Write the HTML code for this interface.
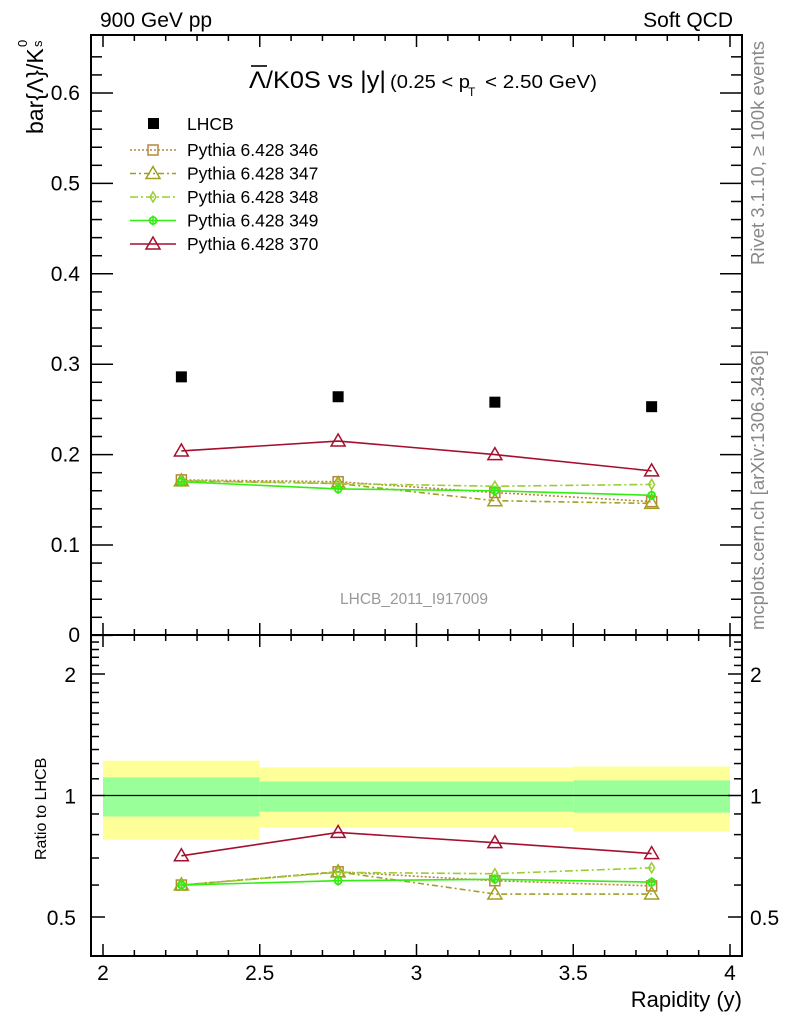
<!DOCTYPE html>
<html><head><meta charset="utf-8"><style>
body{margin:0;background:#fff}
svg{display:block;font-family:"Liberation Sans",sans-serif}
</style></head><body>
<svg id="c" width="786" height="1024" viewBox="0 0 786 1024"></svg>
<script>
const xs=[2.25,2.75,3.25,3.75];
const lhcb=[0.286,0.264,0.258,0.253];
const p346=[0.172,0.170,0.158,0.148];
const p347=[0.171,0.168,0.149,0.146];
const p348=[0.171,0.168,0.165,0.167];
const p349=[0.170,0.162,0.160,0.155];
const p370=[0.204,0.215,0.200,0.182];
const r346=[0.60,0.647,0.615,0.597];
const r347=[0.60,0.647,0.57,0.57];
const r348=[0.60,0.645,0.64,0.662];
const r349=[0.60,0.615,0.62,0.61];
const r370=[0.709,0.81,0.764,0.718];
const bandEdges=[[2,2.5],[2.5,3.5],[3.5,4]];
const yelLo=[0.777,0.833,0.814], yelHi=[1.22,1.174,1.18];
const grnLo=[0.887,0.912,0.907], grnHi=[1.109,1.083,1.09];
const mainTicks=[0.1,0.2,0.3,0.4,0.5,0.6];
const xTicks=[2,2.5,3,3.5,4];
const xTickLabels=["2","2.5","3","3.5","4"];
const ratioTicks=[0.5,1,2];

const L=91,R=742,T=35,M=635,B=956;
const X=v=>103+(v-2)*(730-103)/2;
const Y=v=>635.4-v*904;
const YR=v=>795.5-121.5*Math.log2(v);
const svg=document.getElementById('c');
const NS='http://www.w3.org/2000/svg';
function el(tag,at,txt,name,par){const e=document.createElementNS(NS,tag);for(const k in at)e.setAttribute(k,at[k]);if(txt!=null)e.textContent=txt;


(par||svg).appendChild(e);return e;}
// bands
bandEdges.forEach((b,i)=>{
el('rect',{x:X(b[0]),y:YR(yelHi[i]),width:X(b[1])-X(b[0]),height:YR(yelLo[i])-YR(yelHi[i]),fill:'#ffff99'},null,'band-yellow');
el('rect',{x:X(b[0]),y:YR(grnHi[i]),width:X(b[1])-X(b[0]),height:YR(grnLo[i])-YR(grnHi[i]),fill:'#99ff99'},null,'band-green');
});
el('line',{x1:X(2),x2:X(4),y1:YR(1),y2:YR(1),stroke:'#000','stroke-width':1.3},null,'ratio-unity-line');
// frames
el('rect',{x:L,y:T,width:R-L,height:M-T,fill:'none',stroke:'#000','stroke-width':2},null,'main-frame');
el('rect',{x:L,y:M,width:R-L,height:B-M,fill:'none',stroke:'#000','stroke-width':2},null,'ratio-frame');
// x ticks
for(let v=2;v<=4.001;v+=0.1){const maj=Math.abs(v*2-Math.round(v*2))<1e-6;const len=maj?12:6;
[[T,1],[M,-1],[M,1],[B,-1]].forEach(([y0,d])=>el('line',{x1:X(v),x2:X(v),y1:y0,y2:y0+d*len,stroke:'#000','stroke-width':1.5},null,'x-tick'));}
xTicks.forEach((v,i)=>el('text',{x:X(v),y:980,'font-size':21,'text-anchor':'middle'},xTickLabels[i],'x-tick-label'));
// main y ticks
for(let v=0;v<=0.66;v+=0.02){const maj=Math.abs(v*10-Math.round(v*10))<1e-6;const len=maj?22:11;
el('line',{x1:L,x2:L+len,y1:Y(v),y2:Y(v),stroke:'#000','stroke-width':1.5},null,'y-tick');
el('line',{x1:R,x2:R-len,y1:Y(v),y2:Y(v),stroke:'#000','stroke-width':1.5},null,'y-tick');}
mainTicks.forEach(v=>el('text',{x:80,y:Y(v)+7,'font-size':21,'text-anchor':'end'},v.toFixed(1),'y-tick-label'));
el('text',{x:80,y:642,'font-size':21,'text-anchor':'end'},'0','y-tick-label');
// ratio y ticks
[0.4,0.5,0.6,0.7,0.8,0.9,1,1.1,1.2,1.3,1.4,1.5,1.6,1.7,1.8,1.9,2,2.1,2.2,2.3,2.4].forEach(v=>{const maj=ratioTicks.includes(v);const len=maj?14:8;
el('line',{x1:L,x2:L+len,y1:YR(v),y2:YR(v),stroke:'#000','stroke-width':1.5},null,'ratio-tick');
el('line',{x1:R,x2:R-len,y1:YR(v),y2:YR(v),stroke:'#000','stroke-width':1.5},null,'ratio-tick');});
ratioTicks.forEach(v=>{el('text',{x:76,y:YR(v)+8,'font-size':21,'text-anchor':'end'},String(v),'ratio-tick-label');
el('text',{x:750,y:YR(v)+8,'font-size':21},String(v),'ratio-tick-label-right');});
// text
el('text',{x:100,y:27,'font-size':21},'900 GeV pp','energy-label');
el('text',{x:733,y:27,'font-size':21,'text-anchor':'end'},'Soft QCD','process-label');
el('line',{x1:251,x2:267,y1:66,y2:66,stroke:'#000','stroke-width':1.6},null,'title-overbar');
el('text',{x:249,y:88,'font-size':24,textLength:137,lengthAdjust:'spacingAndGlyphs'},'Λ/K0S vs |y|','plot-title');
el('text',{x:390,y:88,'font-size':18,textLength:80,lengthAdjust:'spacingAndGlyphs'},'(0.25 < p','plot-title-cut');
el('text',{x:468,y:96,'font-size':12},'T','plot-title-sub');
el('text',{x:485,y:88,'font-size':18,textLength:112,lengthAdjust:'spacingAndGlyphs'},'< 2.50 GeV)','plot-title-cut2');
el('text',{x:340,y:604,'font-size':15.5,fill:'#999'},'LHCB_2011_I917009','analysis-id');
el('text',{transform:'translate(43,134) rotate(-90)','font-size':23},'bar{Λ}/K','y-axis-title');
el('text',{transform:'translate(27,47) rotate(-90)','font-size':13},'0','y-axis-title-sup');
el('text',{transform:'translate(42,47) rotate(-90)','font-size':13},'s','y-axis-title-sub');
el('text',{transform:'translate(46,860) rotate(-90)','font-size':16},'Ratio to LHCB','ratio-axis-title');
el('text',{x:742,y:1007,'font-size':22,'text-anchor':'end'},'Rapidity (y)','x-axis-title');
el('text',{transform:'translate(764,265) rotate(-90)','font-size':18.5,fill:'#888'},'Rivet 3.1.10, ≥ 100k events','rivet-label');
el('text',{transform:'translate(764,630) rotate(-90)','font-size':18.5,fill:'#888'},'mcplots.cern.ch [arXiv:1306.3436]','mcplots-label');
// series
function marker(type,x,y,col,name){
 if(type=='sq')el('rect',{x:x-5,y:y-5,width:10,height:10,fill:'none',stroke:col,'stroke-width':1.5},null,name);
 if(type=='tri')el('path',{d:`M${x},${y-7}L${x+7},${y+5}L${x-7},${y+5}Z`,fill:'none',stroke:col,'stroke-width':1.5},null,name);
 if(type=='dia')el('path',{d:`M${x},${y-5}L${x+3},${y}L${x},${y+5}L${x-3},${y}Z`,fill:'none',stroke:col,'stroke-width':1.5},null,name);
 if(type=='circ'){el('circle',{cx:x,cy:y,r:3.5,fill:'none',stroke:col,'stroke-width':1.8},null,name);
  el('path',{d:`M${x-4},${y}H${x+4}M${x},${y-5}V${y+5}`,stroke:col,'stroke-width':1.5},null,name);}
}
const series=[
 {n:'pythia-346',m:p346,r:r346,c:'#b8863b',d:'2,2',t:'sq',label:'Pythia 6.428 346'},
 {n:'pythia-347',m:p347,r:r347,c:'#a0a020',d:'6,3,2,3',t:'tri',label:'Pythia 6.428 347'},
 {n:'pythia-348',m:p348,r:r348,c:'#9acd32',d:'8,3,2,3',t:'dia',label:'Pythia 6.428 348'},
 {n:'pythia-349',m:p349,r:r349,c:'#33ee11',d:'',t:'circ',label:'Pythia 6.428 349'},
 {n:'pythia-370',m:p370,r:r370,c:'#a50f2c',d:'',t:'tri',label:'Pythia 6.428 370'}];
series.forEach(s=>{
 [[s.m,Y],[s.r,YR]].forEach(([arr,f])=>{
  el('polyline',{points:arr.map((v,i)=>X(xs[i])+','+f(v)).join(' '),fill:'none',stroke:s.c,'stroke-width':1.6,'stroke-dasharray':s.d},null,s.n+'-line');
  arr.forEach((v,i)=>marker(s.t,X(xs[i]),f(v),s.c,s.n+'-marker'));
 });
});
lhcb.forEach((v,i)=>el('rect',{x:X(xs[i])-5.5,y:Y(v)-5.5,width:11,height:11,fill:'#000'},null,'lhcb-point'));
// legend
el('rect',{x:148,y:118,width:11,height:11,fill:'#000'},null,'legend-lhcb-marker');
el('text',{x:187,y:130,'font-size':17.5},'LHCB','legend-lhcb-label');
series.forEach((s,i)=>{const y=150+i*23.5;
 el('line',{x1:130,x2:176,y1:y,y2:y,stroke:s.c,'stroke-width':1.5,'stroke-dasharray':s.d},null,'legend-line');
 marker(s.t,153,y,s.c,'legend-marker');
 el('text',{x:187,y:y+6,'font-size':17.5},s.label,'legend-label');
});
</script>
</body></html>
